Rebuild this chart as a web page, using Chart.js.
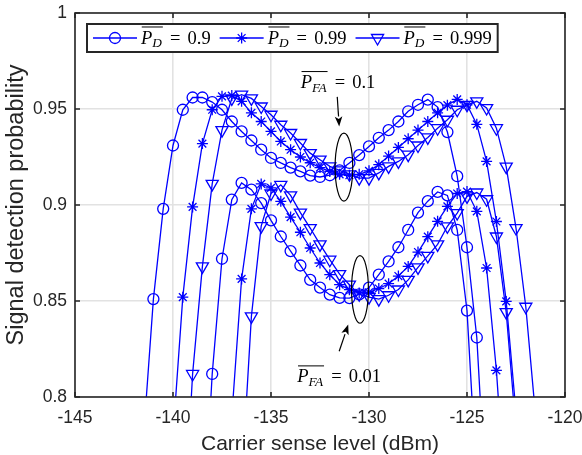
<!DOCTYPE html>
<html>
<head>
<meta charset="utf-8">
<script src="https://cdn.jsdelivr.net/npm/chart.js@4.4.1/dist/chart.umd.min.js"></script>
<style>
  html, body { margin: 0; padding: 0; background: #fff; }
  #wrap { width: 582px; height: 455px; position: relative; }
</style>
</head>
<body>
<div id="wrap"><canvas id="detChart"></canvas></div>
<script>
// carrier sense levels (dBm) shared by all curves
const csLevels = [-142, -141.5, -141, -140.5, -140, -139.5, -139, -138.5, -138, -137.5,
  -137, -136.5, -136, -135.5, -135, -134.5, -134, -133.5, -133, -132.5,
  -132, -131.5, -131, -130.5, -130, -129.5, -129, -128.5, -128, -127.5,
  -127, -126.5, -126, -125.5, -125, -124.5, -124, -123.5, -123, -122.5,
  -122, -121.5, -121];

// P_FA = 0.1
const pfa1_pd900 = [null, 0.78, 0.851, 0.898, 0.931, 0.9496, 0.956, 0.956, 0.9536, 0.9496,
  0.9435, 0.9383, 0.9336, 0.9288, 0.9245, 0.9219, 0.9195, 0.9175, 0.9153, 0.9146,
  0.9155, 0.918, 0.9219, 0.926, 0.9305, 0.935, 0.939, 0.9435, 0.9488, 0.9522,
  0.9549, 0.951, 0.938, 0.915, 0.878, 0.831, 0.74, null, null, null,
  null, null, null];
const pfa1_pd990 = [null, null, null, null, 0.78, 0.852, 0.899, 0.932, 0.9496, 0.9566,
  0.957, 0.954, 0.948, 0.9435, 0.9383, 0.9331, 0.9288, 0.925, 0.922, 0.9195,
  0.9175, 0.916, 0.9155, 0.916, 0.9178, 0.921, 0.9255, 0.93, 0.9345, 0.939,
  0.9435, 0.948, 0.952, 0.955, 0.9522, 0.942, 0.9227, 0.8914, 0.8498, 0.792,
  null, null, null];
const pfa1_pd999 = [null, null, null, null, null, 0.72, 0.812, 0.868, 0.911, 0.939,
  0.9555, 0.9575, 0.9555, 0.9513, 0.947, 0.9418, 0.9375, 0.9323, 0.927, 0.9236,
  0.9201, 0.918, 0.916, 0.914, 0.914, 0.9167, 0.9201, 0.9227, 0.9262, 0.931,
  0.9352, 0.94, 0.9444, 0.9496, 0.9522, 0.954, 0.9505, 0.94, 0.92, 0.888,
  0.847, 0.79, null];

// P_FA = 0.01
const pfa01_pd900 = [null, null, null, null, null, null, null, 0.72, 0.812, 0.872,
  0.9028, 0.9115, 0.908, 0.901, 0.892, 0.8836, 0.876, 0.8685, 0.861, 0.857,
  0.8533, 0.8516, 0.8515, 0.8535, 0.857, 0.8637, 0.8706, 0.878, 0.887, 0.896,
  0.902, 0.9068, 0.905, 0.887, 0.845, 0.755, null, null, null, null,
  null, null, null];
const pfa01_pd990 = [null, null, null, null, null, null, null, null, null, null,
  0.79, 0.8615, 0.898, 0.911, 0.9089, 0.9019, 0.8937, 0.8858, 0.8776, 0.8698,
  0.8637, 0.8585, 0.8559, 0.8542, 0.8545, 0.8565, 0.859, 0.863, 0.868, 0.8755,
  0.8835, 0.8915, 0.8993, 0.906, 0.907, 0.8967, 0.8672, 0.8139, 0.74, null,
  null, null, null];
const pfa01_pd999 = [null, null, null, null, null, null, null, null, null, null,
  null, 0.755, 0.842, 0.889, 0.906, 0.9105, 0.905, 0.896, 0.888, 0.8795,
  0.8715, 0.864, 0.8585, 0.8535, 0.852, 0.851, 0.853, 0.856, 0.861, 0.8675,
  0.8735, 0.8795, 0.8889, 0.8958, 0.9045, 0.9065, 0.903, 0.8836, 0.8442, 0.783,
  null, null, null];

const xTicks = [-145, -140, -135, -130, -125, -120];
const yTicks = [0.8, 0.85, 0.9, 0.95, 1];
const pdLabels = ['0.9', '0.99', '0.999'];

const BLUE = '#0000ff';
const AXIS = '#262626';

const markers = [
  { pointStyle: 'circle', pointRadius: 5.5, pointRotation: 0 },
  { pointStyle: 'star', pointRadius: 5.5, pointRotation: 0 },
  { pointStyle: 'triangle', pointRadius: 7, pointRotation: 180 }
];

function toPoints(vals) {
  return csLevels.map((x, i) => ({ x: x, y: vals[i] })).filter(p => p.y !== null);
}

function makeSet(vals, m) {
  return {
    data: toPoints(vals),
    borderColor: BLUE,
    borderWidth: 1.3,
    pointStyle: m.pointStyle,
    pointRadius: m.pointRadius,
    pointRotation: m.pointRotation,
    pointBorderWidth: 1.3,
    pointBorderColor: BLUE,
    pointBackgroundColor: 'rgba(0,0,0,0)',
    pointHoverRadius: m.pointRadius,
    tension: 0,
    fill: false,
    clip: 0
  };
}

// annotation shapes, in data units
const ellipses = [
  { x: -131.28, y: 0.9197, rx: 0.45, ry: 0.0177 },
  { x: -130.46, y: 0.856, rx: 0.43, ry: 0.0176 }
];
const arrows = [
  { from: [-131.62, 0.9563], to: [-131.52, 0.9409] },
  { from: [-131.52, 0.8238], to: [-131.06, 0.8377] }
];
const notes = [
  { x: -133.48, y: 0.9609, sub: 'FA', value: '0.1' },
  { x: -133.66, y: 0.8076, sub: 'FA', value: '0.01' }
];

const SERIF = '"Liberation Serif", "DejaVu Serif", serif';
const SANS = '"Liberation Sans", Arial, sans-serif';
const MATH_SIZE = 18.5;

// draws  P̄_sub = value  (LaTeX look), returns its width
function drawPbar(ctx, x, base, sub, value, size) {
  ctx.textAlign = 'left';
  ctx.textBaseline = 'alphabetic';
  ctx.fillStyle = '#000';
  ctx.font = 'italic ' + size + 'px ' + SERIF;
  ctx.fillText('P', x, base);
  const wP = ctx.measureText('P').width;
  const subSize = size * 0.72;
  ctx.font = 'italic ' + subSize + 'px ' + SERIF;
  const subX = x + wP;
  ctx.fillText(sub, subX, base + size * 0.2);
  const end = subX + ctx.measureText(sub).width + size * 0.05;
  ctx.fillRect(x + size * 0.04, base - size * 0.92, end - x - size * 0.04, 1);
  ctx.font = size + 'px ' + SERIF;
  const eqBox = size * 0.778;
  const eqX = end + size * 0.278;
  const wEq = ctx.measureText('=').width;
  ctx.fillText('=', eqX + (eqBox - wEq) / 2, base);
  const vX = eqX + eqBox + size * 0.278;
  ctx.fillText(value, vX, base);
  return vX + ctx.measureText(value).width - x;
}

const decorations = {
  id: 'decorations',
  afterDatasetsDraw(chart) {
    const { ctx, scales: { x, y } } = chart;
    ctx.save();
    ctx.strokeStyle = '#000';
    ctx.fillStyle = '#000';
    ctx.lineWidth = 1.2;
    ellipses.forEach(e => {
      const cx = x.getPixelForValue(e.x), cy = y.getPixelForValue(e.y);
      const rx = Math.abs(x.getPixelForValue(e.x + e.rx) - cx);
      const ry = Math.abs(y.getPixelForValue(e.y + e.ry) - cy);
      ctx.beginPath();
      ctx.ellipse(cx, cy, rx, ry, 0, 0, Math.PI * 2);
      ctx.stroke();
    });
    arrows.forEach(a => {
      const x0 = x.getPixelForValue(a.from[0]), y0 = y.getPixelForValue(a.from[1]);
      const x1 = x.getPixelForValue(a.to[0]), y1 = y.getPixelForValue(a.to[1]);
      const ang = Math.atan2(y1 - y0, x1 - x0);
      const headLen = 10, headW = 3.8;
      const bx = x1 - Math.cos(ang) * headLen, by = y1 - Math.sin(ang) * headLen;
      ctx.beginPath();
      ctx.moveTo(x0, y0);
      ctx.lineTo(bx, by);
      ctx.stroke();
      ctx.beginPath();
      ctx.moveTo(x1, y1);
      ctx.lineTo(bx + Math.sin(ang) * headW, by - Math.cos(ang) * headW);
      ctx.lineTo(bx + Math.cos(ang) * 2.5, by + Math.sin(ang) * 2.5);
      ctx.lineTo(bx - Math.sin(ang) * headW, by + Math.cos(ang) * headW);
      ctx.closePath();
      ctx.fill();
    });
    notes.forEach(n => {
      drawPbar(ctx, x.getPixelForValue(n.x), y.getPixelForValue(n.y), n.sub, n.value, MATH_SIZE);
    });
    ctx.restore();
  },
  afterDraw(chart) {
    const { ctx, chartArea: ca, scales: { x, y } } = chart;
    ctx.save();
    // axes box with inward ticks
    ctx.strokeStyle = AXIS;
    ctx.lineWidth = 1.6;
    ctx.strokeRect(ca.left, ca.top, ca.right - ca.left, ca.bottom - ca.top);
    ctx.beginPath();
    xTicks.forEach(v => {
      const px = x.getPixelForValue(v);
      ctx.moveTo(px, ca.bottom); ctx.lineTo(px, ca.bottom - 5);
      ctx.moveTo(px, ca.top); ctx.lineTo(px, ca.top + 5);
    });
    yTicks.forEach(v => {
      const py = y.getPixelForValue(v);
      ctx.moveTo(ca.left, py); ctx.lineTo(ca.left + 5, py);
      ctx.moveTo(ca.right, py); ctx.lineTo(ca.right - 5, py);
    });
    ctx.stroke();

    // legend box, top left inside the axes
    const left = ca.left + 12, top = ca.top + 11, h = 28;
    const cy = top + h / 2;
    const base = top + 19.5;
    ctx.fillStyle = '#fff';
    ctx.fillRect(left, top, 420, h);
    let cur = left + 6;
    let right = 0;
    pdLabels.forEach((lab, i) => {
      ctx.strokeStyle = BLUE;
      ctx.lineWidth = 1.3;
      ctx.beginPath();
      ctx.moveTo(cur, cy); ctx.lineTo(cur + 44, cy);
      ctx.stroke();
      ctx.fillStyle = 'rgba(0,0,0,0)';
      Chart.helpers.drawPoint(ctx, {
        pointStyle: markers[i].pointStyle,
        rotation: markers[i].pointRotation,
        radius: markers[i].pointRadius,
        borderWidth: 1.3
      }, cur + 22, cy);
      const w = drawPbar(ctx, cur + 48, base, 'D', lab, MATH_SIZE);
      right = cur + 48 + w;
      cur = right + 9;
    });
    ctx.strokeStyle = AXIS;
    ctx.lineWidth = 2;
    ctx.strokeRect(left, top, right + 6 - left, h);
    ctx.restore();
  }
};

const fmt = v => String(Number(v.toFixed(2)));

new Chart(document.getElementById('detChart'), {
  type: 'line',
  data: {
    datasets: [
      makeSet(pfa1_pd900, markers[0]),
      makeSet(pfa1_pd990, markers[1]),
      makeSet(pfa1_pd999, markers[2]),
      makeSet(pfa01_pd900, markers[0]),
      makeSet(pfa01_pd990, markers[1]),
      makeSet(pfa01_pd999, markers[2])
    ]
  },
  options: {
    responsive: true,
    maintainAspectRatio: false,
    animation: false,
    events: [],
    layout: { padding: { top: 13, right: 17, left: 0, bottom: 0 } },
    plugins: {
      legend: { display: false },
      tooltip: { enabled: false }
    },
    scales: {
      x: {
        type: 'linear',
        min: -145,
        max: -120,
        afterBuildTicks: scale => { scale.ticks = xTicks.map(v => ({ value: v })); },
        afterFit: scale => {
          scale.height = 58;
          scale.paddingLeft = 0;
          scale.paddingRight = 0;
        },
        ticks: {
          callback: v => fmt(v),
          color: AXIS,
          padding: 11,
          maxRotation: 0,
          font: { family: SANS, size: 17.5 }
        },
        grid: { color: '#e2e2e2', lineWidth: 1.6, drawTicks: false },
        border: { display: false },
        title: {
          display: true,
          text: 'Carrier sense level (dBm)',
          color: AXIS,
          padding: { top: 0, bottom: 0 },
          font: { family: SANS, size: 21, lineHeight: 1 }
        }
      },
      y: {
        type: 'linear',
        min: 0.8,
        max: 1,
        afterBuildTicks: scale => { scale.ticks = yTicks.map(v => ({ value: v })); },
        afterFit: scale => {
          scale.width = 75;
          scale.paddingTop = 0;
          scale.paddingBottom = 0;
        },
        ticks: {
          callback: v => fmt(v),
          color: AXIS,
          padding: 8,
          font: { family: SANS, size: 17.5 }
        },
        grid: { color: '#e2e2e2', lineWidth: 1.6, drawTicks: false },
        border: { display: false },
        title: {
          display: true,
          text: 'Signal detection probability',
          color: AXIS,
          padding: { top: 5, bottom: 0 },
          font: { family: SANS, size: 23.5, lineHeight: 1 }
        }
      }
    }
  },
  plugins: [decorations]
});
</script>
</body>
</html>
